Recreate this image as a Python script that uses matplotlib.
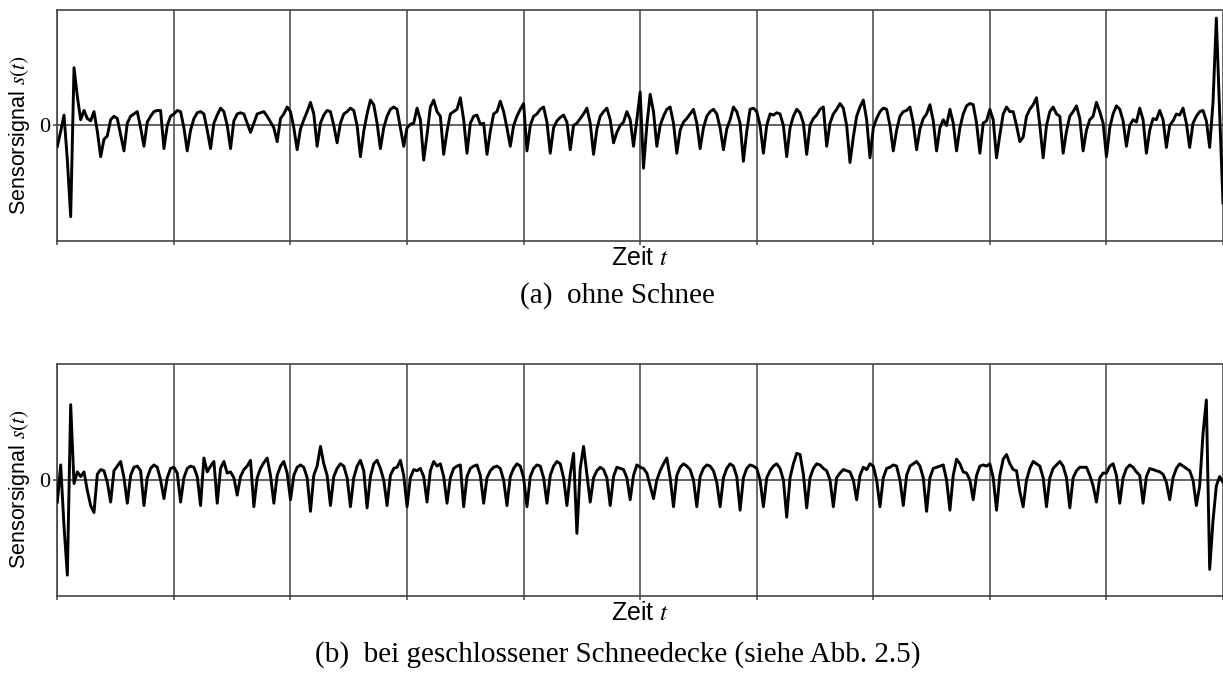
import numpy as np
import matplotlib
matplotlib.use('Agg')
import matplotlib.pyplot as plt

plt.rcParams['font.family'] = 'Liberation Sans'
plt.rcParams['mathtext.fontset'] = 'stix'

# Sensorsignal s(t), beliebige Einheiten, 35 Abtastwerte pro Rasterfeld
s_ohne = [
    -18, -5, 9, -30, -79, 50, 25, 5, 13, 6,
    4, 12, -5, -27, -12, -9, 5, 8, 6, -8,
    -22, 2, 8, 10, 12, -2, -18, 3, 8, 12,
    13, 13, -20, 0, 8, 10, 13, 12, -2, -22,
    -4, 6, 11, 12, 10, -4, -20, 2, 9, 15,
    12, 0, -20, 4, 10, 11, 10, 2, -6, 2,
    10, 11, 12, 8, 3, -2, -14, 6, 10, 16,
    12, -2, -21, -3, 5, 12, 20, 10, -18, 2,
    9, 13, 12, 0, -15, 2, 10, 12, 15, 13,
    0, -27, -5, 10, 22, 18, 2, -20, -2, 8,
    14, 16, 14, -2, -18, -2, 1, 2, 15, 5,
    -30, -8, 16, 22, 12, 8, -25, -5, 10, 12,
    14, 24, 5, -24, 2, 8, 9, 1, 2, -25,
    -5, 10, 12, 21, 12, -2, -18, 0, 8, 14,
    19, -22, 0, 8, 10, 14, 16, 3, -24, -2,
    4, 7, 9, 3, -21, 0, 2, 6, 10, 15,
    2, -25, -3, 8, 12, 15, 5, -15, -6, 0,
    3, 12, 5, -18, 5, 29, -37, 0, 27, 12,
    -18, 0, 8, 14, 16, 2, -24, -4, 3, 6,
    10, 14, 2, -20, -2, 8, 12, 14, 10, -2,
    -21, -3, 5, 16, 12, 2, -31, -5, 14, 15,
    12, 0, -24, 0, 10, 9, 11, 10, 0, -27,
    -2, 8, 14, 11, 2, -25, 0, 6, 9, 14,
    16, -18, 2, 10, 14, 19, 15, 0, -32, -10,
    8, 16, 22, 5, -28, -2, 6, 12, 15, 14,
    0, -22, -4, 8, 12, 13, 16, 2, -21, -3,
    6, 10, 18, 4, -22, -2, 5, 0, 14, 2,
    -22, -2, 10, 17, 19, 18, 2, -24, 2, 4,
    14, 5, -28, -8, 10, 16, 12, 12, 0, -14,
    -10, 8, 14, 18, 24, 0, -28, 0, 12, 16,
    10, 8, -24, -5, 8, 12, 17, 6, -22, -4,
    5, 8, 20, 12, 2, -27, -2, 10, 17, 14,
    4, -18, 0, 5, 3, 15, 5, -24, -4, 6,
    5, 13, 5, -19, 0, 4, 10, 9, 15, 2,
    -19, 2, 8, 12, 13, 4, -19, 20, 93, 10,
    -67,
]

s_schnee = [
    -19, 13, -40, -82, 65, -3, 7, 3, 7, -9,
    -22, -28, 5, 9, 8, -2, -19, 8, 12, 16,
    2, -20, 4, 11, 12, 8, -22, 2, 10, 13,
    11, 0, -16, 2, 10, 11, 6, -19, 2, 10,
    12, 11, 3, -22, 19, 7, 12, 16, -20, 10,
    16, 6, 7, 2, -13, 3, 9, 12, 17, -23,
    2, 10, 15, 19, 4, -20, 4, 12, 16, 6,
    -17, 4, 11, 13, 11, 2, -27, 4, 12, 29,
    14, 4, -22, 3, 10, 14, 12, 2, -23, 2,
    12, 17, 8, -24, 3, 14, 17, 10, 0, -22,
    4, 10, 11, 17, 4, -23, 2, 9, 8, 10,
    3, -19, 8, 16, 12, 14, 3, -20, 2, 10,
    12, 13, -23, 3, 10, 12, 13, 4, -20, 2,
    8, 11, 12, 10, 0, -22, 3, 10, 14, 12,
    2, -23, 3, 10, 13, 12, 2, -20, 4, 12,
    16, 14, 2, -22, 5, 23, -46, 10, 29, 5,
    -19, 2, 8, 11, 9, 2, -22, 3, 11, 10,
    9, 2, -17, 4, 13, 11, 10, 6, -5, -16,
    0, 8, 14, 19, 2, -23, 4, 11, 14, 12,
    9, 0, -23, 3, 10, 13, 12, 8, -2, -23,
    2, 10, 14, 12, 3, -26, 2, 10, 13, 12,
    10, 0, -23, 2, 8, 12, 14, 10, 0, -32,
    2, 14, 23, 22, 5, -24, 2, 10, 14, 13,
    10, 8, 0, -23, 2, 6, 9, 8, 7, 0,
    -17, 4, 11, 9, 14, 12, 0, -23, 2, 10,
    11, 13, 12, 0, -22, 4, 12, 14, 16, 12,
    2, -27, 2, 10, 11, 12, 13, 0, -26, 4,
    18, 14, 7, 6, 0, -17, 4, 12, 13, 12,
    14, 2, -26, 4, 18, 22, 14, 9, 8, -10,
    -23, 0, 10, 16, 14, 12, 2, -23, 2, 10,
    13, 16, 12, 2, -24, 2, 8, 11, 11, 11,
    4, -5, -19, 2, 6, 6, 12, 14, 4, -20,
    2, 10, 13, 11, 7, 4, -20, 3, 10, 9,
    8, 7, 5, -2, -17, 2, 10, 14, 12, 10,
    8, 0, -22, -5, 40, 69, -77, -35, -5, 3,
    -2,
]

captions = ['(a)  ohne Schnee',
            '(b)  bei geschlossener Schneedecke (siehe Abb. 2.5)']

fig = plt.figure(figsize=(12.23, 6.75), dpi=100)

# [links, unten, breite, hoehe] und y-Lage der Bildunterschrift
boxes = [[0.0469, 0.643, 0.9531, 0.3422], [0.0469, 0.117, 0.9531, 0.3437]]
cap_y = [0.5615, 0.0296]
axcol = '#444444'

for sig, box, cap, cy in zip([s_ohne, s_schnee], boxes, captions, cap_y):
    ax = fig.add_axes(box)
    t = np.linspace(0, 10, len(sig))
    ax.plot(t, sig, color='black', lw=2.1, zorder=3, solid_joinstyle='round')
    ax.axhline(0, color='#555555', lw=1.3, zorder=2)
    ax.set_xlim(0, 10)
    ax.set_ylim(-100, 100)
    ax.set_xticks(range(11))
    ax.set_xticklabels([])
    ax.grid(axis='x', color=axcol, lw=1.1)
    ax.set_yticks([0])
    ax.set_yticklabels(['0'], fontfamily='Liberation Serif', fontsize=16)
    ax.tick_params(axis='both', direction='out', length=3, width=1.1, color=axcol, pad=2)
    ax.spines['right'].set_visible(False)
    for sp in ['left', 'top', 'bottom']:
        ax.spines[sp].set_color(axcol)
        ax.spines[sp].set_linewidth(1.2)
    ax.text(0.5, -0.075, 'Zeit $t$', transform=ax.transAxes, ha='center', va='center', fontsize=18)
    ax.text(-0.0324, 0.46, 'Sensorsignal $s(t)$', transform=ax.transAxes, rotation=90,
            ha='center', va='center', fontsize=15.5)
    fig.text(0.505, cy, cap, ha='center', va='center', fontfamily='Liberation Serif', fontsize=21)

fig.savefig('out.png', dpi=100)
